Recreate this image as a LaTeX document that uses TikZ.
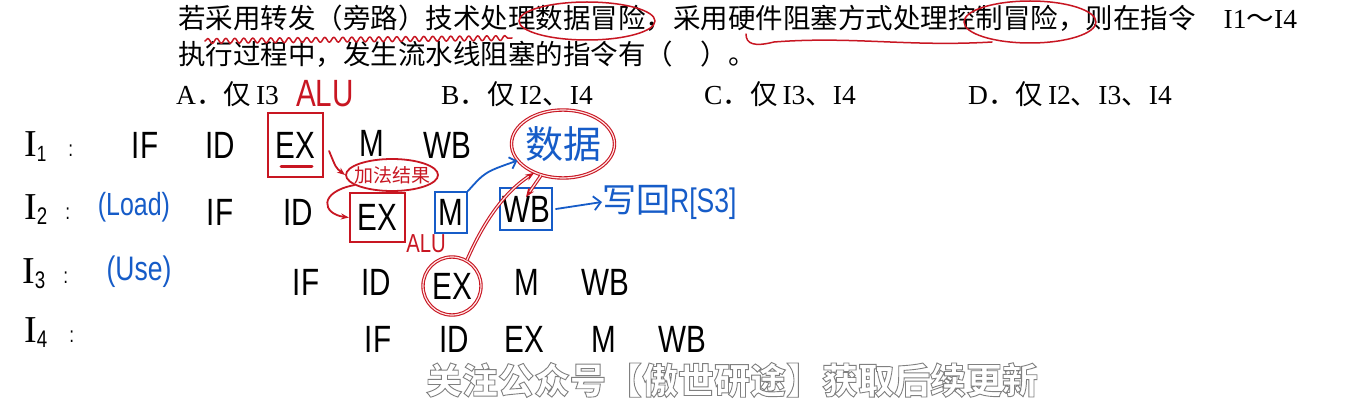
\documentclass[tikz,border=0pt]{standalone}
\usepackage{fontspec}
\setmainfont{Liberation Serif}
\newfontfamily\cjk{Noto Sans CJK SC}
\newfontfamily\hand[FakeStretch=0.78]{Liberation Sans}
\usetikzlibrary{shapes.geometric,arrows.meta,decorations.pathmorphing}
\definecolor{hred}{RGB}{200,22,34}
\definecolor{hblue}{RGB}{22,92,200}
\newcommand\setfs[1]{\fontsize{#1}{#1}\selectfont}
\begin{document}
\begin{tikzpicture}[x=1pt,y=-1pt,
  qtext/.style={anchor=west, inner sep=0pt, font=\setfs{27.5}},
  stage/.style={inner sep=0pt, font=\hand\setfs{38}},
  lbl/.style={anchor=west, inner sep=0pt, font=\hand\setfs{38}},
  bluetext/.style={text=hblue, inner sep=0pt},
  redtext/.style={text=hred, inner sep=0pt},
  redbox/.style={draw=hred, line width=2.2pt},
  bluebox/.style={draw=hblue, line width=1.8pt},
  redpen/.style={draw=hred, line width=1.8pt, line cap=round, line join=round},
  bluepen/.style={draw=hblue, line width=1.8pt, line cap=round, line join=round},
  glow/.style={draw=hred, line width=1.1pt, double=red!10, double distance=1.2pt},
]
\fill[white] (0,0) rectangle (1349,401);
\useasboundingbox (0,0) rectangle (1349,401);

% question text
\node[qtext] (q1) at (178,18) {{\cjk 若采用转发（旁路）技术处理数据冒险，采用硬件阻塞方式处理控制冒险，则在指令}\hspace{28pt}I1{\cjk ～}I4};
\node[qtext] (q2) at (178,54) {\cjk 执行过程中，发生流水线阻塞的指令有（\hspace{1em}）。};
\node[qtext] (oa) at (176,94) {A{\cjk ．仅}\hspace{5pt}I3};
\node[qtext] (ob) at (441,94) {B{\cjk ．仅}\hspace{5pt}I2{\cjk 、}I4};
\node[qtext] (oc) at (704,94) {C{\cjk ．仅}\hspace{5pt}I3{\cjk 、}I4};
\node[qtext] (od) at (968,94) {D{\cjk ．仅}\hspace{5pt}I2{\cjk 、}I3{\cjk 、}I4};

% annotations on the question
\draw[redpen, line width=1.5pt, decorate, decoration={snake, amplitude=2.5pt, segment length=9pt}] (205,41) -- (512,38);
\draw[redpen, line width=1.5pt] (587,21) ellipse [x radius=68, y radius=19];
\draw[redpen, line width=1.5pt] (746,34) .. controls (746,44) and (754,47) .. (774,42) .. controls (852,36) and (908,47) .. (992,42);
\draw[redpen, line width=1.5pt] (1030,22) ellipse [x radius=66, y radius=21];
\node[redtext, font=\hand\setfs{38}] (alu1) at (325,94) {ALU};

% row labels
\node[lbl] (l1) at (24,147) {{\rmfamily I}\raisebox{-5pt}{\setfs{22}1}\hspace{22pt}{\setfs{22}:}};
\node[lbl] (l2) at (24,210) {{\rmfamily I}\raisebox{-5pt}{\setfs{24}2}\hspace{18pt}{\setfs{22}:}};
\node[lbl] (l3) at (22,274) {{\rmfamily I}\raisebox{-5pt}{\setfs{24}3}\hspace{18pt}{\setfs{22}:}};
\node[lbl] (l4) at (24,333) {{\rmfamily I}\raisebox{-5pt}{\setfs{24}4}\hspace{22pt}{\setfs{22}:}};
\node[bluetext, font=\hand\setfs{32}] (load) at (134,207) {(Load)};
\node[bluetext, font=\hand\setfs{34}] (use) at (139,272) {(Use)};

% row 1
\node[stage] (s1if) at (145,145) {IF};
\node[stage] (s1id) at (220,145) {ID};
\node[stage, redbox, minimum width=55pt, minimum height=64pt] (s1ex) at (295.5,145) {EX};
\node[stage] (s1m) at (372,143) {M};
\node[stage] (s1wb) at (447,145) {WB};
\draw[redpen, line width=3pt] (281,166) -- (312,166);

% row 2
\node[stage] (s2if) at (220,212) {IF};
\node[stage] (s2id) at (298,212) {ID};
\node[stage, redbox, minimum width=55pt, minimum height=49pt] (s2ex) at (377.5,217.5) {EX};
\node[stage, bluebox, minimum width=32pt, minimum height=41pt] (s2m) at (451,212.5) {M};
\node[stage, bluebox, minimum width=52pt, minimum height=42pt] (s2wb) at (526,209) {WB};
\node[redtext, font=\hand\setfs{26}] (alu2) at (426,244) {ALU};

% row 3
\node[stage] (s3if) at (306,282) {IF};
\node[stage] (s3id) at (376,282) {ID};
\node[stage, glow, circle, minimum size=58pt] (s3ex) at (452,286) {EX};
\node[stage] (s3m) at (527,282) {M};
\node[stage] (s3wb) at (605,282) {WB};

% row 4
\node[stage] (s4if) at (378,339) {IF};
\node[stage] (s4id) at (454,339) {ID};
\node[stage] (s4ex) at (524,339) {EX};
\node[stage] (s4m) at (604,339) {M};
\node[stage] (s4wb) at (682,339) {WB};

% bubbles
\node[ellipse, draw=hred, line width=1.8pt, text=hred, inner sep=0pt, minimum width=92pt, minimum height=32pt, font=\cjk\setfs{19}] (sum) at (392,175) {\makebox[0pt]{加法结果}};
\node[glow, ellipse, inner sep=0pt, minimum width=103pt, minimum height=68pt, text=hblue, font=\cjk\setfs{38}] (data) at (563,144) {\makebox[0pt]{数据}};
\node[bluetext, anchor=west, font=\setfs{34}] (wr) at (602,202) {{\cjk 写回}{\hand R[S3]}};

% connectors
\draw[redpen, -{Stealth[length=8pt]}] ([shift={(5,6)}]s1ex.east) .. controls (336,168) .. (sum.west);
\draw[redpen, -{Stealth[length=8pt]}] (sum.195) .. controls (318,192) and (322,214) .. (s2ex.west);
\draw[bluepen, -{Straight Barb[length=6pt]}] (s2m.north east) .. controls (485,172) .. (data.200);
\draw[glow, -{Stealth[length=9pt]}] (s3ex.60) .. controls (480,230) and (500,195) .. (data.225);
\draw[glow, -{Stealth[length=9pt]}] (data.235) -- ([shift={(0,10)}]s2wb.north);
\draw[bluepen, -{Straight Barb[length=7pt]}] ([shift={(3,0)}]s2wb.east) -- (wr.west);

% watermark
\node[font=\cjk\bfseries\setfs{36}, text=white, inner sep=0pt] (wm) at (732,380) {\special{pdf:literal direct 0.5 G 2 Tr 0.9 w}关注公众号【傲世研途】获取后续更新\special{pdf:literal direct 0 Tr}};
\end{tikzpicture}
\end{document}
